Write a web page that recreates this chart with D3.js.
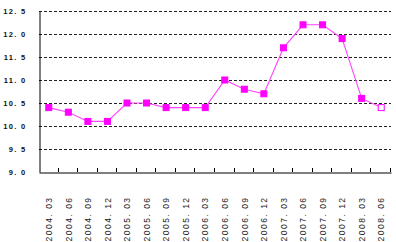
<!DOCTYPE html>
<html><head><meta charset="utf-8">
<script src="https://cdn.jsdelivr.net/npm/d3@7"></script>
<style>
html,body{margin:0;padding:0;background:#fff;}
svg{display:block;}
</style>
</head><body>
<svg id="c" width="396" height="242"></svg>
<script>
const categories = ["2004. 03","2004. 06","2004. 09","2004. 12","2005. 03","2005. 06","2005. 09","2005. 12","2006. 03","2006. 06","2006. 09","2006. 12","2007. 03","2007. 06","2007. 09","2007. 12","2008. 03","2008. 06"];
const values = [10.4,10.3,10.1,10.1,10.5,10.5,10.4,10.4,10.4,11.0,10.8,10.7,11.7,12.2,12.2,11.9,10.6,10.4];
const yTicks = [9.0,9.5,10.0,10.5,11.0,11.5,12.0,12.5];
const yTickLabels = ["9. 0","9. 5","10. 0","10. 5","11. 0","11. 5","12. 0","12. 5"];

(function(){
const svg = d3.select("#c");
const mLeft = 39, mRight = 391, mTop = 11, mBottom = 172;
const x = d3.scaleBand().domain(categories).range([mLeft, mRight]);
const y = d3.scaleLinear().domain([9, 12.5]).range([mBottom, mTop]);

// gridlines
svg.append("g").selectAll("line").data(yTicks.filter(d => d > 9)).join("line")
  .attr("x1", mLeft).attr("x2", mRight)
  .attr("y1", d => y(d) + 0.5).attr("y2", d => y(d) + 0.5)
  .attr("stroke", "#222").attr("stroke-width", 1).attr("stroke-dasharray", "3,2");

// y axis
const yAxis = d3.axisLeft(y).tickValues(yTicks).tickSize(0).tickPadding(13)
  .tickFormat((d, i) => yTickLabels[i]);
const gy = svg.append("g").attr("transform", `translate(${mLeft + 0.5},0)`).call(yAxis);
gy.select(".domain").attr("stroke", "#000");
gy.selectAll("text").attr("font-family", "'Liberation Sans', Arial, sans-serif")
  .attr("font-size", "7.5px").attr("font-weight", "bold").attr("letter-spacing", "1.3px")
  .attr("fill", "#111");

// x axis
const xAxis = d3.axisBottom(x).tickSize(0).tickPadding(0);
const gx = svg.append("g").attr("transform", `translate(0,${mBottom + 0.5})`).call(xAxis);
gx.select(".domain").attr("stroke", "#000");
gx.selectAll(".tick line").remove();
gx.selectAll("text")
  .attr("font-family", "'Liberation Sans', Arial, sans-serif")
  .attr("font-size", "8.5px").attr("letter-spacing", "1.5px").attr("fill", "#222")
  .attr("text-anchor", "start").attr("dy", null).attr("y", 0)
  .attr("transform", `translate(3.2,${241 - mBottom}) rotate(-90)`);

// inner tick marks at band boundaries
const bounds = categories.map(c => x(c)).concat([mRight]);
svg.append("g").selectAll("line").data(bounds.slice(1)).join("line")
  .attr("x1", d => Math.round(d) - 0.5).attr("x2", d => Math.round(d) - 0.5)
  .attr("y1", mBottom).attr("y2", mBottom - 4)
  .attr("stroke", "#000").attr("stroke-width", 1);

// line
const cx = d => x(d) + x.bandwidth() / 2;
const line = d3.line().x((d, i) => cx(categories[i])).y(d => y(d));
svg.append("path").datum(values).attr("d", line)
  .attr("fill", "none").attr("stroke", "#ff44ff").attr("stroke-width", 1.1);

// markers
svg.append("g").selectAll("rect").data(values).join("rect")
  .attr("x", (d, i) => cx(categories[i]) - 3)
  .attr("y", d => y(d) - 3)
  .attr("width", 6).attr("height", 6)
  .attr("fill", (d, i) => i === values.length - 1 ? "#fff" : "#ff00ff")
  .attr("stroke", "#ff00ff").attr("stroke-width", 1);
})();
</script>
</body></html>
